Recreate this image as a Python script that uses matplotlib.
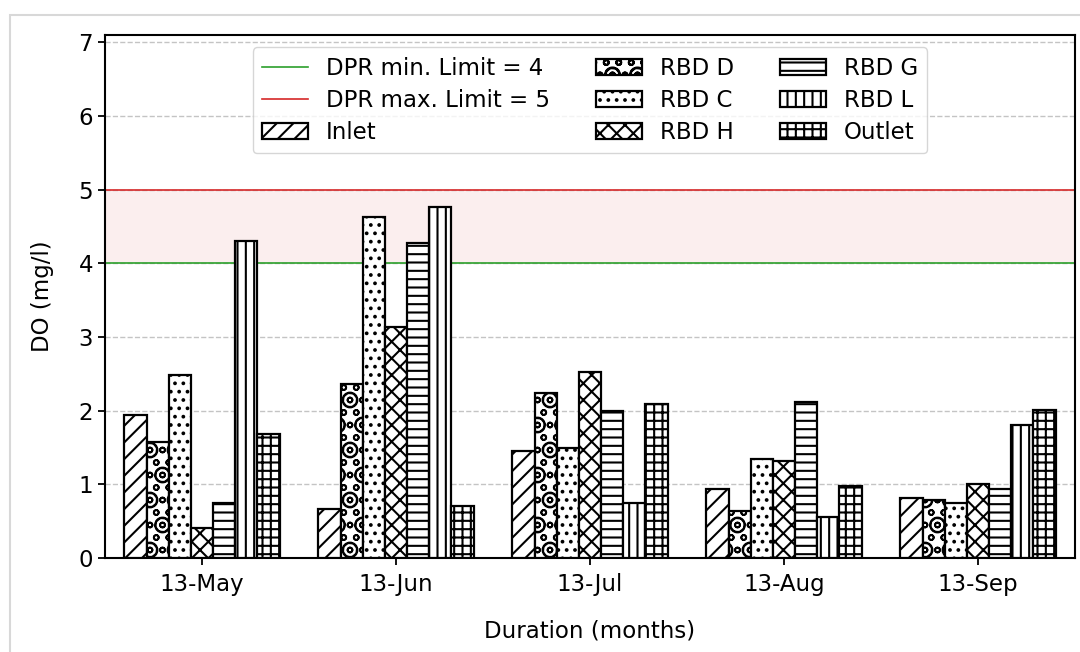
import matplotlib
matplotlib.use("Agg")
import matplotlib.pyplot as plt
import matplotlib.hatch as mhatch
import numpy as np
from matplotlib.patches import Rectangle

months = ["13-May", "13-Jun", "13-Jul", "13-Aug", "13-Sep"]
series_names = ["Inlet", "RBD D", "RBD C", "RBD H", "RBD G", "RBD L", "Outlet"]
inlet = [1.94, 0.67, 1.45, 0.93, 0.81]
rbd_d = [1.57, 2.36, 2.24, 0.64, 0.79]
rbd_c = [2.48, 4.63, 1.49, 1.34, 0.74]
rbd_h = [0.41, 3.14, 2.52, 1.32, 1.01]
rbd_g = [0.75, 4.27, 2.00, 2.12, 0.93]
rbd_l = [4.30, 4.76, 0.74, 0.55, 1.80]
outlet = [1.69, 0.71, 2.09, 0.98, 2.01]
series_values = [inlet, rbd_d, rbd_c, rbd_h, rbd_g, rbd_l, outlet]
hatches = ["//", "Oo", "..", "xx", "--", "||", "++"]
hatch_lw = [1.5, 1.3, 1.5, 1.5, 1.5, 1.5, 1.5]
dpr_min = 4
dpr_max = 5
yticks = [0, 1, 2, 3, 4, 5, 6, 7]


# sparser ring pattern for the 'O' / 'o' hatch (large rings with small circles)
def _large_init(self, hatch, density):
    self.num_rows = hatch.count('O') * 4
    mhatch.Circles.__init__(self, hatch, density)


def _small_init(self, hatch, density):
    self.num_rows = hatch.count('o') * 8
    mhatch.Circles.__init__(self, hatch, density)


mhatch.LargeCircles.__init__ = _large_init
mhatch.LargeCircles.size = 0.3
mhatch.SmallCircles.__init__ = _small_init
mhatch.SmallCircles.size = 0.2

plt.rcParams["hatch.linewidth"] = 1.5
plt.rcParams["font.family"] = ["DejaVu Sans"]
FS = 16.5
LFS = 16.5

fig = plt.figure(figsize=(10.8, 6.52), dpi=100)
ax = fig.add_axes([105/1080, 1-558/652, (1075-105)/1080, (558-35)/652])

x = np.arange(len(months))
w = 0.8 / len(series_names)

ax.axhspan(dpr_min, dpr_max, color="#d62728", alpha=0.08, lw=0, zorder=0)
lmin = ax.axhline(dpr_min, color="#2ca02c", lw=1.2, zorder=1)
lmax = ax.axhline(dpr_max, color="#d62728", lw=1.2, zorder=1)

bars = []
for i, (name, vals, h, hl) in enumerate(zip(series_names, series_values, hatches, hatch_lw)):
    with plt.rc_context({"hatch.linewidth": hl}):
        b = ax.bar(x + (i - 3) * w, vals, width=w, facecolor="white", edgecolor="black",
                   linewidth=1.6, hatch=h, label=name, zorder=3)
    for p in b.patches:
        if hasattr(p, "set_hatch_linewidth"):
            p.set_hatch_linewidth(hl)
    bars.append(b)

ax.set_xlim(-0.5, len(months) - 0.5)
ax.set_ylim(0, 7.1)
ax.set_yticks(yticks)
ax.set_xticks(x)
ax.set_xticklabels(months)
ax.tick_params(axis="both", labelsize=FS, width=1.3, length=5)
ax.tick_params(axis="x", pad=6)
ax.yaxis.grid(True, linestyle="--", color="#c4c4c4", lw=1.0, zorder=0)
ax.set_axisbelow(True)
for s in ax.spines.values():
    s.set_linewidth(1.5)

ax.set_xlabel("Duration (months)", fontsize=FS, labelpad=17)
ax.set_ylabel("DO (mg/l)", fontsize=FS, labelpad=18)

handles = [lmin, lmax] + bars
labels = ["DPR min. Limit = 4", "DPR max. Limit = 5"] + series_names
leg = ax.legend(handles, labels, loc="upper center", ncol=3, fontsize=LFS,
                bbox_to_anchor=(0.5, 0.985), columnspacing=2.0, handletextpad=0.8,
                borderaxespad=0.2, labelspacing=0.4)

fig.add_artist(Rectangle((10/1080, -0.1), 1.2, 1.1 - 15/652, transform=fig.transFigure,
                         fill=False, edgecolor="#d8d8d8", lw=1.5))

fig.savefig("out.png", dpi=100)
